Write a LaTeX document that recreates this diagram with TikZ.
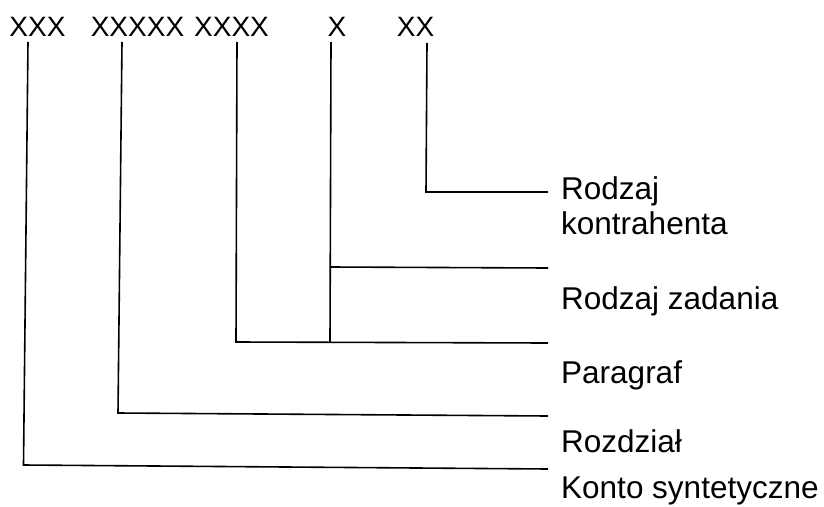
\documentclass[tikz,border=0pt]{standalone}
\usepackage{fontspec}
\setmainfont{Liberation Sans}
\begin{document}
\begin{tikzpicture}[x=1pt,y=-1pt,
  code/.style={font=\fontsize{28}{30}\selectfont, anchor=base, inner sep=0pt},
  lab/.style={font=\fontsize{31.5}{34}\selectfont, anchor=base west, inner sep=0pt},
  conn/.style={line width=1.6pt, line join=miter}]
\useasboundingbox (0,0) rectangle (824,506);
% top codes
\node[code] (c1) at (37.5,36) {XXX};
\node[code] (c2) at (137.5,36) {XXXXX};
\node[code] (c3) at (231.5,36) {XXXX};
\node[code] (c4) at (337,36) {X};
\node[code] (c5) at (415.5,36) {XX};
% labels
\node[lab] (l5a) at (561,199) {Rodzaj};
\node[lab] (l5b) at (561,234) {kontrahenta};
\node[lab] (l4) at (561,309) {Rodzaj zadania};
\node[lab] (l3) at (561,383) {Paragraf};
\node[lab] (l2) at (561,452) {Rozdział};
\node[lab] (l1) at (561,498) {Konto syntetyczne};
% coordinates
\coordinate (t1) at (28,42);  \coordinate (b1) at (23.5,465); \coordinate (e1) at (548,469);
\coordinate (t2) at (122,42); \coordinate (b2) at (118,413);  \coordinate (e2) at (548,416);
\coordinate (t3) at (237,42); \coordinate (b3) at (236,342);  \coordinate (e3) at (548,343);
\coordinate (t4) at (331,42); \coordinate (b4) at (330,342);  \coordinate (m4) at (330,267); \coordinate (e4) at (548,268);
\coordinate (t5) at (427,43); \coordinate (b5) at (426,192);  \coordinate (e5) at (548,192);
% connectors
\draw[conn] (t1) -- (b1) -- (e1);
\draw[conn] (t2) -- (b2) -- (e2);
\draw[conn] (t3) -- (b3) -- (e3);
\draw[conn] (t4) -- (b4);
\draw[conn] (m4) -- (e4);
\draw[conn] (t5) -- (b5) -- (e5);
\end{tikzpicture}
\end{document}
